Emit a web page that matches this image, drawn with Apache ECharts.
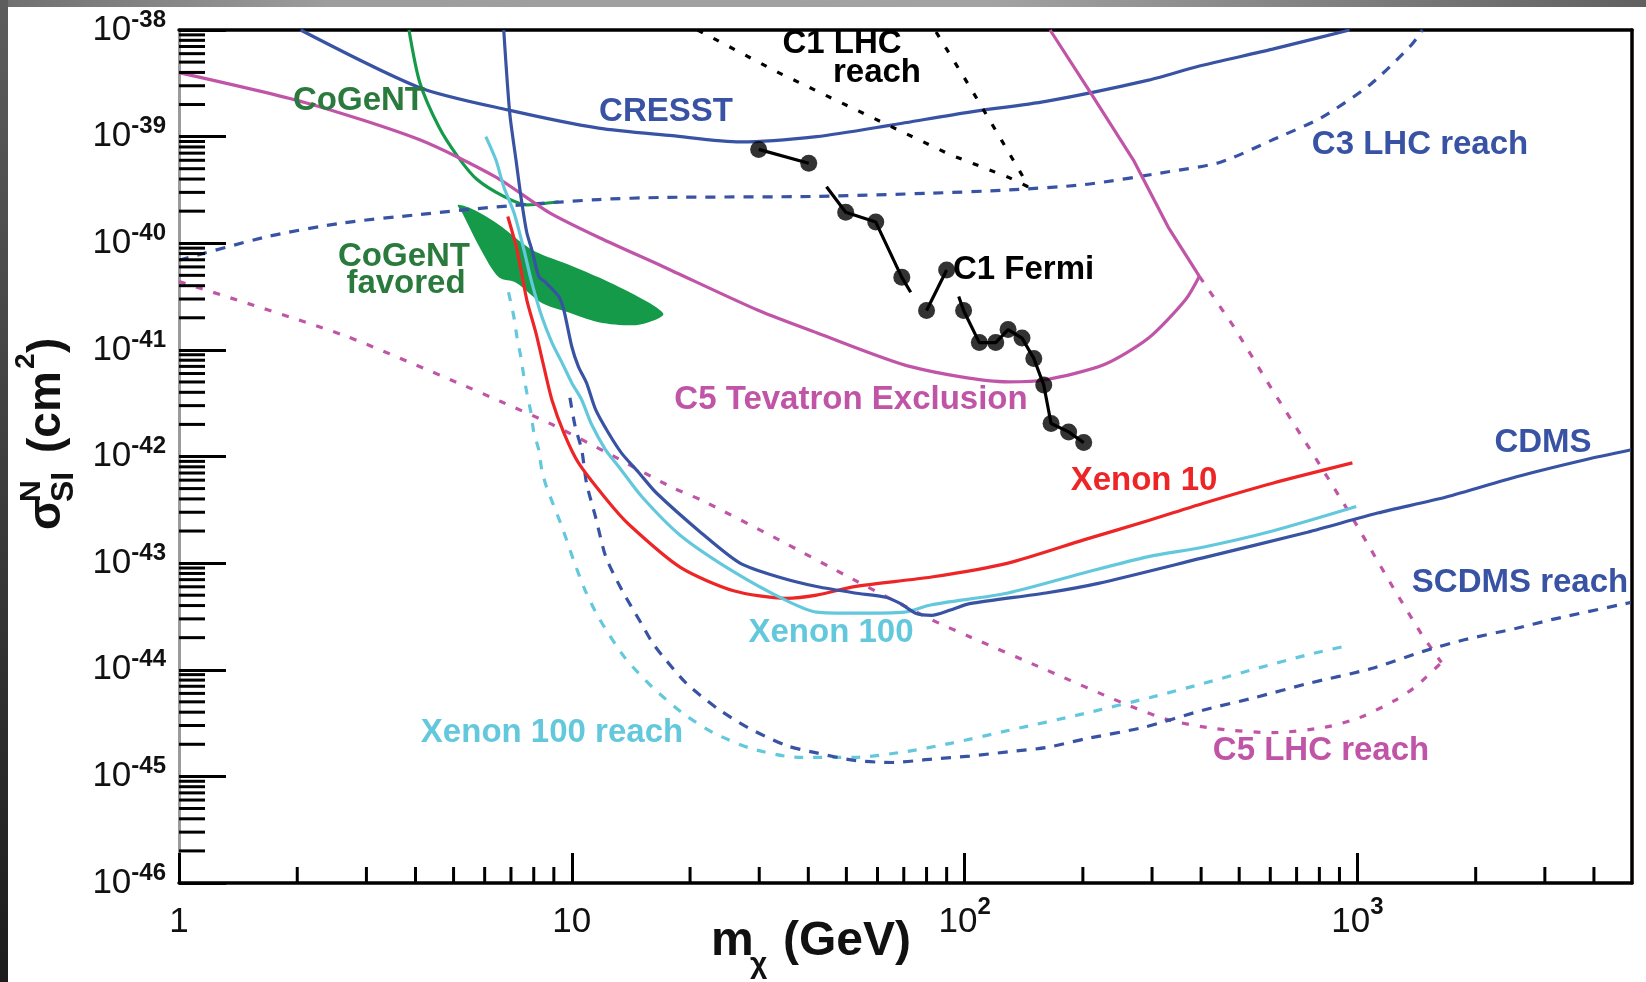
<!DOCTYPE html>
<html>
<head>
<meta charset="utf-8">
<title>Spin-independent WIMP-nucleon cross section</title>
<script src="https://cdn.jsdelivr.net/npm/echarts@6/dist/echarts.min.js"></script>
<style>
  html, body { margin: 0; padding: 0; background: #fff; }
  #chart { width: 1646px; height: 982px; }
</style>
</head>
<body>
<div id="chart"></div>
<script>
// WIMP mass (GeV) vs spin-independent cross section (cm^2)
const cresst = [[2.04,1.0e-38],[4.1,2.88e-39],[6.87,1.78e-39],[11.7,1.20e-39],[18,1.02e-39],[26.8,8.91e-40],[42,1.0e-39],[65.6,1.29e-39],[103,1.70e-39],[161,2.14e-39],[294,3.39e-39],[394,4.57e-39],[608,6.61e-39],[955,1.0e-38]];
const c3LhcReach = [[1,6.92e-41],[1.67,1.15e-40],[2.61,1.55e-40],[4.1,1.86e-40],[6.41,2.19e-40],[11.7,2.57e-40],[17.1,2.69e-40],[42,2.75e-40],[82.4,2.95e-40],[129,3.16e-40],[202,3.55e-40],[330,4.68e-40],[448,5.75e-40],[608,9.33e-40],[810,1.51e-39],[1079,3.09e-39],[1372,7.24e-39],[1463,1.0e-38]];
const c1LhcReach = [[20.9,1.0e-38],[33.6,3.98e-39],[57.3,1.55e-39],[92,6.76e-40],[129,4.17e-40],[145,3.39e-40],[141,4.17e-40],[124,9.33e-40],[103,2.95e-39],[84,1.0e-38]];
const cogent = [[3.85,1.0e-38],[4.1,3.24e-39],[4.59,1.23e-39],[5.13,6.46e-40],[5.73,3.98e-40],[6.71,2.75e-40],[7.68,2.29e-40],[9.26,2.45e-40]];
const cogentFavored = [[5.13,2.29e-40],[5.63,2.06e-40],[6.52,1.49e-40],[7.91,8.71e-41],[9.65,6.46e-41],[11.7,4.79e-41],[14.2,3.39e-41],[16.4,2.51e-41],[17.1,2.14e-41],[15.7,1.82e-41],[14.2,1.70e-41],[11.7,1.82e-41],[9.65,2.29e-41],[8.39,2.75e-41],[7.21,4.27e-41],[6.52,4.79e-41],[5.87,8.71e-41],[5.25,1.95e-40]];
const c5Tevatron = [[1,3.98e-39],[2.09,2.09e-39],[4.1,9.33e-40],[6.41,4.17e-40],[8.74,1.95e-40],[11.8,1.12e-40],[17.1,6.03e-41],[29.9,2.34e-41],[42,1.45e-41],[73.3,6.92e-42],[129,5.01e-42],[161,5.25e-42],[226,7.24e-42],[294,1.29e-41],[365,2.95e-41],[396,4.9e-41]];
const c5TevatronEdge = [[165,1.0e-38],[207,2.75e-39],[269,6.03e-40],[330,1.41e-40],[396,4.9e-41]];
const c5LhcEdge = [[396,4.9e-41],[486,1.62e-41],[608,4.17e-42],[778,1.0e-42],[955,2.95e-43],[1242,5.62e-44],[1463,2.09e-44],[1636,1.17e-44]];
const c5LhcReach = [[1,4.37e-41],[2.61,1.38e-41],[5.13,4.9e-42],[6.64,3.24e-42],[8.9,2.0e-42],[12.2,1.1e-42],[18,5.13e-43],[21.4,3.89e-43],[33.6,1.66e-43],[52.5,6.92e-44],[82.4,2.95e-44],[103,2.04e-44],[161,1.0e-44],[252,4.9e-45],[330,3.39e-45],[430,2.82e-45],[608,2.57e-45],[824,2.88e-45],[1012,3.55e-45],[1242,5.13e-45],[1405,6.92e-45],[1636,1.17e-44]];
const xenon10 = [[6.87,1.78e-40],[7.25,8.71e-41],[7.68,2.95e-41],[8.1,1.45e-41],[8.49,6.92e-42],[8.9,3.39e-42],[9.55,1.66e-42],[10.4,8.71e-43],[12.3,3.89e-43],[14.0,2.29e-43],[18.9,9.12e-44],[25.8,5.5e-44],[35.1,4.68e-44],[42,5.01e-44],[52.5,6.03e-44],[82.4,7.41e-44],[129,1.0e-43],[202,1.66e-43],[294,2.51e-43],[404,3.63e-43],[608,5.62e-43],[971,8.71e-43]];
const xenon100 = [[6.04,1.0e-39],[6.41,6.03e-40],[6.71,3.39e-40],[7.12,1.95e-40],[7.55,8.71e-41],[7.91,4.27e-41],[8.39,2.04e-41],[8.9,1.17e-41],[9.44,7.59e-42],[10.0,4.9e-42],[10.6,3.39e-42],[11.2,2.04e-42],[12.2,1.15e-42],[13.2,7.94e-43],[15.1,4.17e-43],[18.9,1.82e-43],[25.8,8.32e-44],[35.1,4.47e-44],[42,3.47e-44],[52.5,3.39e-44],[70.3,3.47e-44],[82.4,4.07e-44],[129,5.25e-44],[202,8.13e-44],[294,1.15e-43],[404,1.41e-43],[608,2.0e-43],[993,3.39e-43]];
const cdms = [[6.71,1.0e-38],[6.95,1.66e-39],[7.21,6.03e-40],[7.42,2.75e-40],[7.68,1.26e-40],[7.91,8.71e-41],[8.24,4.9e-41],[8.59,4.27e-41],[9.27,3.16e-41],[9.55,2.34e-41],[10.0,1.07e-41],[10.4,6.92e-42],[10.9,4.9e-42],[11.5,2.75e-42],[12.4,1.66e-42],[13.4,1.07e-42],[14.8,7.08e-43],[16.4,4.57e-43],[21.4,1.91e-43],[26.8,1.0e-43],[33.6,7.41e-44],[42,6.03e-44],[52.5,5.25e-44],[62.9,4.79e-44],[68.7,4.17e-44],[75,3.39e-44],[82.4,3.24e-44],[92,3.63e-44],[103,4.17e-44],[161,5.25e-44],[219,6.46e-44],[404,1.12e-43],[746,1.95e-43],[1125,2.95e-43],[1683,4.17e-43],[2541,6.46e-43],[3802,9.33e-43],[4955,1.15e-42]];
const xenon100Reach = [[6.9,3.47e-41],[7.12,2.04e-41],[7.25,1.32e-41],[7.42,8.51e-42],[7.55,5.62e-42],[7.68,3.98e-42],[7.87,2.57e-42],[8.0,1.70e-42],[8.24,1.15e-42],[8.39,7.41e-43],[8.63,5.13e-43],[9.44,2.19e-43],[10.1,1.07e-43],[10.8,5.62e-44],[11.7,3.09e-44],[13.6,1.32e-44],[16.0,6.92e-45],[19.2,3.89e-45],[22.9,2.57e-45],[28.7,1.82e-45],[37.6,1.51e-45],[52.5,1.51e-45],[70.3,1.70e-45],[92,2.04e-45],[129,2.69e-45],[202,3.89e-45],[297,5.5e-45],[404,7.41e-45],[550,1.02e-44],[746,1.38e-44],[955,1.70e-44]];
const scdmsReach = [[9.89,3.55e-42],[10.2,1.91e-42],[10.6,1.15e-42],[10.9,5.62e-43],[11.5,2.69e-43],[12.2,1.15e-43],[13.4,5.62e-44],[15.0,2.75e-44],[16.0,1.82e-44],[17.1,1.32e-44],[19.6,7.41e-45],[23.4,4.37e-45],[28.0,2.88e-45],[35.1,1.95e-45],[42,1.66e-45],[52.5,1.41e-45],[65.6,1.35e-45],[82.4,1.45e-45],[103,1.55e-45],[129,1.70e-45],[161,1.86e-45],[202,2.24e-45],[285,2.88e-45],[404,4.17e-45],[550,5.5e-45],[746,7.41e-45],[1079,1.02e-44],[1463,1.48e-44],[1871,1.91e-44],[2541,2.45e-44],[3119,2.95e-44],[4955,4.27e-44]];
// C1 Fermi: broken track (null = gap) and the measured points
const fermiTrack = [[29.9,7.59e-40],[40.1,5.62e-40],null,[44.5,3.39e-40],[49.8,1.95e-40],[59.4,1.58e-40],[69.2,4.79e-41],[72.9,3.47e-41],null,[80.0,2.34e-41],[90.0,5.62e-41],null,[96.6,3.16e-41],[99.4,2.34e-41],[109,1.17e-41],[120,1.17e-41],[129,1.55e-41],[140,1.29e-41],[150,8.32e-42],[159,4.68e-42],[166,2.04e-42],[184,1.70e-42],[201,1.35e-42]];
const fermiPoints = [[29.9,7.59e-40],[40.1,5.62e-40],[49.8,1.95e-40],[59.4,1.58e-40],[69.2,4.79e-41],[80.0,2.34e-41],[90.0,5.62e-41],[99.4,2.34e-41],[109,1.17e-41],[120,1.17e-41],[129,1.55e-41],[140,1.29e-41],[150,8.32e-42],[159,4.68e-42],[166,2.04e-42],[184,1.70e-42],[201,1.35e-42]];

// axes: mass 1..5000 GeV, cross section 1e-46..1e-38 cm^2
const xRange = [1, 5000];
const yExpRange = [-46, -38];
const minorSteps = [2, 3, 4, 5, 6, 7, 8, 9];

// y values are plotted in units of 1e-46 cm^2 (log axis ticks get rounded otherwise)
const SIGMA_UNIT = Math.pow(10, yExpRange[0]);
const yMax = Math.pow(10, yExpRange[1] - yExpRange[0]);

const BLUE = '#3953a4', CYAN = '#64c8dd', RED = '#ee2526', MAGENTA = '#c055a7';
const GREEN = '#159a4a', TEXT_GREEN = '#2a7a3d';
const FONT = '"Liberation Sans", Arial, sans-serif';

function toPlot(pts) {
    return pts.map(p => [p[0], p[1] / SIGMA_UNIT]);
}

function curve(pts, color, dash, smooth) {
    return {
        type: 'line',
        data: toPlot(pts),
        symbol: 'none',
        showSymbol: false,
        smooth: smooth === undefined ? 0.25 : smooth,
        silent: true,
        z: 3,
        lineStyle: { color: color, width: 3.2, type: dash || 'solid' }
    };
}

// split the fermi track at the gaps
const fermiSegments = [[]];
fermiTrack.forEach(p => {
    if (p === null) fermiSegments.push([]);
    else fermiSegments[fermiSegments.length - 1].push(p);
});

// log minor tick positions (plot units)
const xMinor = [], yMinor = [];
for (let d = 0; d < 4; d++) {
    minorSteps.forEach(m => { const v = m * Math.pow(10, d); if (v < xRange[1]) xMinor.push(v); });
}
for (let d = 0; d < yExpRange[1] - yExpRange[0]; d++) {
    minorSteps.forEach(m => yMinor.push(m * Math.pow(10, d)));
}

function expLabel(e) {
    return '{b|10}{s|' + e + '}';
}

function text(str, color, x, y, align, font) {
    return {
        type: 'text', x: x, y: y, silent: true, z: 10,
        style: {
            text: str, fill: color, font: font || ('bold 33px ' + FONT),
            textAlign: align || 'center', textVerticalAlign: 'middle'
        }
    };
}

const chart = echarts.init(document.getElementById('chart'));

const option = {
    animation: false,
    backgroundColor: '#fff',
    textStyle: { fontFamily: FONT },
    grid: { left: 179, right: 14, top: 30, bottom: 99, outerBoundsMode: 'none' },
    xAxis: [
        {
            type: 'log', logBase: 10, min: xRange[0], max: xRange[1], position: 'bottom',
            axisLine: { onZero: false, lineStyle: { color: '#000', width: 3.5 } },
            axisTick: { inside: true, length: 30, lineStyle: { color: '#000', width: 3 } },
            minorTick: { show: false },
            splitLine: { show: false },
            axisLabel: {
                margin: 12,
                showMaxLabel: false,
                formatter: function (v) {
                    const e = Math.round(Math.log10(v));
                    if (e === 0) return '{b|1}';
                    if (e === 1) return '{b|10}';
                    return expLabel(e);
                },
                rich: {
                    b: { fontSize: 35, lineHeight: 54, color: '#111', fontFamily: FONT },
                    s: { fontSize: 24, lineHeight: 24, fontWeight: 'bold', color: '#111', verticalAlign: 'top', fontFamily: FONT }
                }
            }
        },
        {
            type: 'log', logBase: 10, min: xRange[0], max: xRange[1], position: 'top',
            axisLine: { onZero: false, lineStyle: { color: '#000', width: 3.5 } },
            axisTick: { show: false }, axisLabel: { show: false }, splitLine: { show: false }
        }
    ],
    yAxis: [
        {
            type: 'log', logBase: 10, min: 1, max: yMax, position: 'left',
            axisLine: { onZero: false, lineStyle: { color: '#9b9b9b', width: 3 } },
            axisTick: { inside: true, length: 47, lineStyle: { color: '#000', width: 3 } },
            minorTick: { show: false },
            splitLine: { show: false },
            axisLabel: {
                margin: 13,
                formatter: function (v) {
                    return expLabel(Math.round(Math.log10(v)) + yExpRange[0]);
                },
                rich: {
                    b: { fontSize: 35, lineHeight: 44, color: '#111', fontFamily: FONT },
                    s: { fontSize: 24, lineHeight: 24, fontWeight: 'bold', color: '#111', verticalAlign: 'top', fontFamily: FONT }
                }
            }
        },
        {
            type: 'log', logBase: 10, min: 1, max: yMax, position: 'right',
            axisLine: { onZero: false, lineStyle: { color: '#000', width: 3.5 } },
            axisTick: { show: false }, axisLabel: { show: false }, splitLine: { show: false }
        }
    ],
    graphic: [
        // scanned-frame edges
        {
            type: 'rect', silent: true, shape: { x: 0, y: 0, width: 1646, height: 7 },
            style: { fill: new echarts.graphic.LinearGradient(0, 0, 1, 0, [
                { offset: 0, color: '#6f6f6f' }, { offset: 0.2, color: '#9d9d9d' },
                { offset: 0.6, color: '#a3a3a3' }, { offset: 1, color: '#606060' }]) }
        },
        {
            type: 'rect', silent: true, shape: { x: 0, y: 0, width: 8, height: 982 },
            style: { fill: new echarts.graphic.LinearGradient(0, 0, 0, 1, [
                { offset: 0, color: '#5d5d5d' }, { offset: 1, color: '#1c1c1c' }]) }
        },
        // curve labels
        text('CoGeNT', TEXT_GREEN, 359, 101),
        text('CoGeNT', TEXT_GREEN, 404, 257),
        text('favored', TEXT_GREEN, 406, 284),
        text('CRESST', BLUE, 666, 112),
        text('C1 LHC', '#000', 842, 44),
        text('reach', '#000', 877, 73),
        text('C3 LHC reach', BLUE, 1420, 145),
        text('C1 Fermi', '#000', 953, 270, 'left'),
        text('C5 Tevatron Exclusion', MAGENTA, 851, 400),
        text('Xenon 10', RED, 1144, 481),
        text('Xenon 100', CYAN, 831, 633),
        text('Xenon 100 reach', CYAN, 552, 733),
        text('CDMS', BLUE, 1543, 443),
        text('SCDMS reach', BLUE, 1520, 583),
        text('C5 LHC reach', MAGENTA, 1321, 751),
        // x axis title
        text('m', '#111', 711, 942, 'left', 'bold 48px ' + FONT),
        text('χ', '#111', 750, 965, 'left', 'bold 30px ' + FONT),
        text('(GeV)', '#111', 783, 942, 'left', 'bold 48px ' + FONT),
        // y axis title, rotated
        {
            type: 'group', x: 47, y: 530, rotation: Math.PI / 2, silent: true,
            children: [
                text('σ', '#111', 0, 0, 'left', 'bold 46px ' + FONT),
                text('N', '#111', 28, -15, 'left', 'bold 30px ' + FONT),
                text('SI', '#111', 28, 17, 'left', 'bold 32px ' + FONT),
                text('(cm', '#111', 77, 0, 'left', 'bold 46px ' + FONT),
                text('2', '#111', 161, -21, 'left', 'bold 28px ' + FONT),
                text(')', '#111', 177, 0, 'left', 'bold 46px ' + FONT)
            ]
        }
    ],
    series: [
        // CoGeNT favored region
        {
            type: 'custom', silent: true, z: 1,
            data: [toPlot(cogentFavored)[0]],
            renderItem: function (params, api) {
                const pts = toPlot(cogentFavored).map(p => api.coord(p));
                return { type: 'polygon', shape: { points: pts, smooth: 0.3 }, style: { fill: GREEN } };
            }
        },
        curve(cogent, GREEN),
        curve(cresst, BLUE),
        curve(c3LhcReach, BLUE, [10, 9]),
        curve(c1LhcReach, '#000', [6, 12], false),
        curve(c5Tevatron, MAGENTA),
        curve(c5TevatronEdge, MAGENTA, 'solid', false),
        curve(c5LhcEdge, MAGENTA, [7, 11], false),
        curve(c5LhcReach, MAGENTA, [7, 11]),
        curve(xenon100Reach, CYAN, [9, 10]),
        curve(scdmsReach, BLUE, [10, 9]),
        curve(xenon10, RED),
        curve(xenon100, CYAN),
        curve(cdms, BLUE)
    ].concat(fermiSegments.map(seg => Object.assign(curve(seg, '#000', 'solid', false), { z: 5 }))).concat([
        {
            type: 'scatter', silent: true, z: 6,
            data: toPlot(fermiPoints),
            symbol: 'circle', symbolSize: 17,
            itemStyle: { color: '#000' }
        },
        // log minor ticks on the bottom axis
        {
            type: 'custom', silent: true, z: 4,
            data: xMinor.map(v => [v, 1]),
            renderItem: function (params, api) {
                const p = api.coord([api.value(0), api.value(1)]);
                return { type: 'line', shape: { x1: p[0], y1: p[1], x2: p[0], y2: p[1] - 16 }, style: { stroke: '#000', lineWidth: 3 } };
            }
        },
        // log minor ticks on the left axis
        {
            type: 'custom', silent: true, z: 4,
            data: yMinor.map(v => [xRange[0], v]),
            renderItem: function (params, api) {
                const p = api.coord([api.value(0), api.value(1)]);
                return { type: 'line', shape: { x1: p[0], y1: p[1], x2: p[0] + 26, y2: p[1] }, style: { stroke: '#000', lineWidth: 3 } };
            }
        }
    ])
};

chart.setOption(option);
</script>
</body>
</html>
